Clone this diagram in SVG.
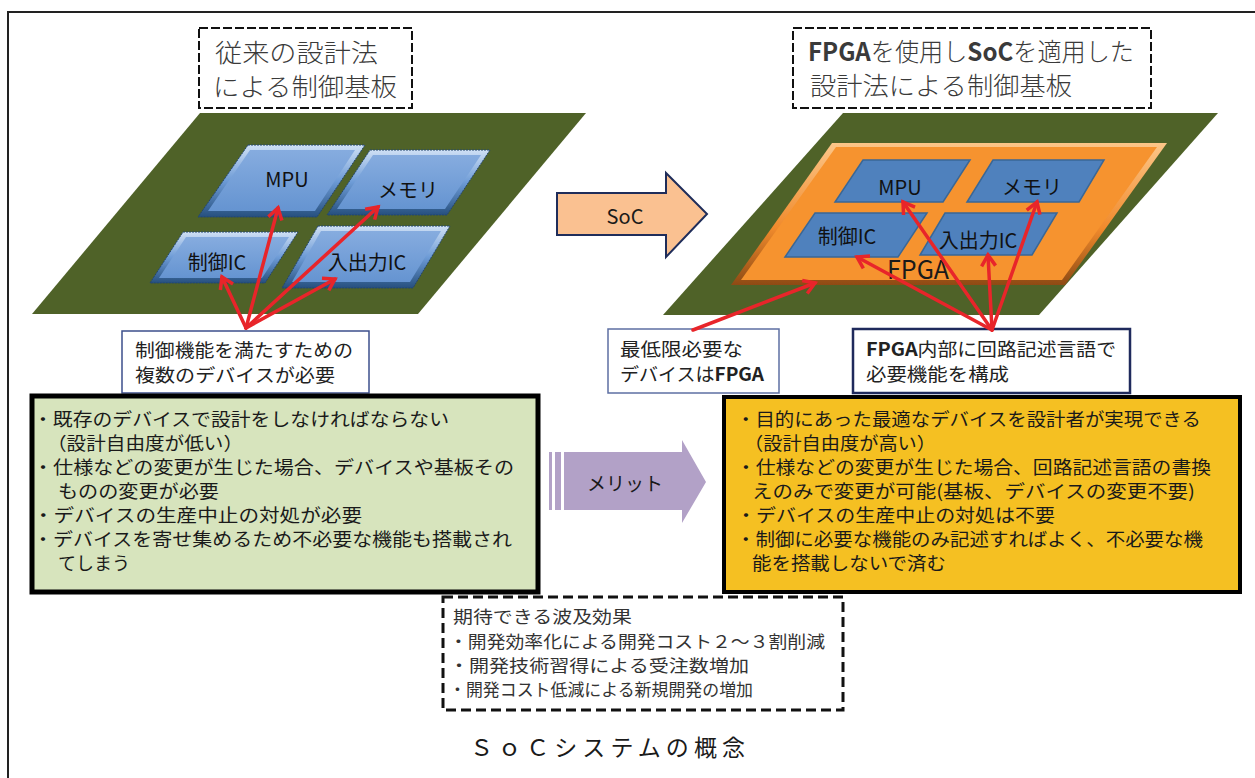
<svg xmlns="http://www.w3.org/2000/svg" width="1255" height="778" viewBox="0 0 1255 778">
  <defs>
    <style>
      text { font-family: "Noto Sans CJK JP", "Noto Sans", sans-serif; fill: #1a1a1a; }
      .title { font-size: 25px; fill: #3a3a3a; font-weight: 300; }
      .chip { font-size: 20px; fill: #111; text-anchor: middle; }
      .note { font-size: 18.5px; fill: #222; }
      .body { font-size: 18px; fill: #1a1a1a; }
      .effect { font-size: 17px; fill: #333; }
      .board { fill: #4f6228; }
      .chipflat { fill: #4f81bd; stroke: #3a6796; stroke-width: 1.5; }
      .chipedge { fill: url(#chipEdge); stroke: #23466f; stroke-width: 1; stroke-dasharray: 2 1; }
      .chipface { fill: url(#chipFace); }
      .dash { fill: #fff; stroke: #111; stroke-width: 2; stroke-dasharray: 9 3; }
      .callout { fill: #fff; stroke: #3c4f8c; stroke-width: 1.5; }
      .red { stroke: #e8252a; stroke-width: 3.5; fill: none; stroke-linecap: round; marker-end: url(#redHead); }
    </style>
    <marker id="redHead" markerUnits="userSpaceOnUse" markerWidth="20" markerHeight="20" viewBox="0 0 20 20" refX="14" refY="10" orient="auto">
      <path d="M3,3 L14,10 L3,17" fill="none" stroke="#e8252a" stroke-width="3.5" stroke-linejoin="miter"/>
    </marker>
    <linearGradient id="chipEdge" x1="0" y1="0" x2="0" y2="1">
      <stop offset="0" stop-color="#cfe0f5"/>
      <stop offset="0.5" stop-color="#6d9bd6"/>
      <stop offset="1" stop-color="#26507f"/>
    </linearGradient>
    <linearGradient id="chipFace" x1="0" y1="0" x2="0" y2="1">
      <stop offset="0" stop-color="#86acdf"/>
      <stop offset="1" stop-color="#6594d1"/>
    </linearGradient>
    <linearGradient id="fpgaEdge" x1="0" y1="0" x2="0" y2="1">
      <stop offset="0" stop-color="#fcc688"/>
      <stop offset="0.6" stop-color="#f08a2c"/>
      <stop offset="1" stop-color="#8e4a14"/>
    </linearGradient>
  </defs>

  <!-- outer frame (top and left rules only) -->
  <g id="frame" stroke="#222" stroke-width="2" fill="none">
    <line x1="7" y1="12" x2="1255" y2="12"/>
    <line x1="8" y1="11" x2="8" y2="778"/>
  </g>

  <!-- conventional board -->
  <g id="title-left">
    <rect class="dash" x="199" y="28" width="213" height="80"/>
    <text class="title" x="215" y="62" textLength="163" lengthAdjust="spacingAndGlyphs">従来の設計法</text>
    <text class="title" x="213" y="96" textLength="184" lengthAdjust="spacingAndGlyphs">による制御基板</text>
  </g>

  <g id="board-left">
    <polygon class="board" points="200,113 586,113 418,314 32,314"/>
  </g>

  <g id="chip-left-mpu">
    <polygon class="chipedge" points="248,145 365,145 317,217 198,217"/>
    <polygon class="chipface" points="250,150 355,150 315,211 208,211"/>
    <text class="chip" x="287" y="187">MPU</text>
  </g>
  <g id="chip-left-mem">
    <polygon class="chipedge" points="370,150 490,150 447,215 327,215"/>
    <polygon class="chipface" points="373,155 481,155 445,209 337,209"/>
    <text class="chip" x="408" y="198">メモリ</text>
  </g>
  <g id="chip-left-ctrl">
    <polygon class="chipedge" points="183,232 298,232 265,283 150,283"/>
    <polygon class="chipface" points="186,237 289,237 262,278 159,278"/>
    <text class="chip" x="217" y="270">制御IC</text>
  </g>
  <g id="chip-left-io">
    <polygon class="chipedge" points="318,226 450,226 413,288 282,288"/>
    <polygon class="chipface" points="321,231 441,231 410,282 292,282"/>
    <text class="chip" x="367" y="270">入出力IC</text>
  </g>

  <g id="note-left">
    <rect class="callout" x="122" y="331" width="247" height="62"/>
    <text class="note" x="135" y="357" textLength="218" lengthAdjust="spacingAndGlyphs">制御機能を満たすための</text>
    <text class="note" x="135" y="382" textLength="200" lengthAdjust="spacingAndGlyphs">複数のデバイスが必要</text>
  </g>

  <!-- SoC transition arrow -->
  <g id="arrow-soc">
    <polygon points="557,193 666,193 666,173 707,214 666,257 666,235 557,235" fill="#fac191" stroke="#1f2d5a" stroke-width="2" stroke-linejoin="miter"/>
    <text x="625" y="224" font-size="20" text-anchor="middle" fill="#222">SoC</text>
  </g>

  <!-- FPGA based board -->
  <g id="title-right">
    <rect class="dash" x="793" y="28" width="358" height="80"/>
    <text class="title" x="808" y="61" textLength="326" lengthAdjust="spacingAndGlyphs"><tspan font-weight="bold">FPGA</tspan>を使用し<tspan font-weight="bold">SoC</tspan>を適用した</text>
    <text class="title" x="810" y="95" textLength="262" lengthAdjust="spacingAndGlyphs">設計法による制御基板</text>
  </g>

  <g id="board-right">
    <polygon class="board" points="843,113 1218,113 1039,315 663,315"/>
  </g>

  <g id="fpga">
    <polygon points="832,143 1167,143 1065,285 731,285" fill="url(#fpgaEdge)"/>
    <polygon points="836,147 1157,147 1062,280 741,280" fill="#f6932f"/>
    <text x="918" y="279" font-size="25" text-anchor="middle" fill="#111">FPGA</text>
  </g>

  <g id="chip-right-mpu">
    <polygon class="chipflat" points="863,160 970,160 943,202 835,202"/>
    <text class="chip" x="900" y="195">MPU</text>
  </g>
  <g id="chip-right-mem">
    <polygon class="chipflat" points="993,160 1104,160 1079,202 967,202"/>
    <text class="chip" x="1032" y="195">メモリ</text>
  </g>
  <g id="chip-right-ctrl">
    <polygon class="chipflat" points="815,213 927,213 898,257 785,257"/>
    <text class="chip" x="847" y="244">制御IC</text>
  </g>
  <g id="chip-right-io">
    <polygon class="chipflat" points="945,213 1057,213 1032,255 920,255"/>
    <text class="chip" x="978" y="248">入出力IC</text>
  </g>

  <g id="note-min">
    <rect x="608" y="329" width="171" height="64" fill="#fff" stroke="#5d6fa3" stroke-width="1.5"/>
    <text class="note" x="620" y="356" textLength="123" lengthAdjust="spacingAndGlyphs">最低限必要な</text>
    <text class="note" x="620" y="381" textLength="144" lengthAdjust="spacingAndGlyphs">デバイスは<tspan font-weight="bold">FPGA</tspan></text>
  </g>

  <g id="note-hdl">
    <rect x="853" y="329" width="277" height="64" fill="#fff" stroke="#1f2a5c" stroke-width="2.5"/>
    <text class="note" x="866" y="356" textLength="250" lengthAdjust="spacingAndGlyphs"><tspan font-weight="bold">FPGA</tspan>内部に回路記述言語で</text>
    <text class="note" x="866" y="381" textLength="143" lengthAdjust="spacingAndGlyphs">必要機能を構成</text>
  </g>

  <!-- red pointer arrows -->
  <g id="connectors">
    <line class="red" x1="246" y1="328" x2="278" y2="208"/>
    <line class="red" x1="246" y1="328" x2="378" y2="207"/>
    <line class="red" x1="246" y1="328" x2="222" y2="277"/>
    <line class="red" x1="246" y1="328" x2="335" y2="279"/>
    <line class="red" x1="693" y1="330" x2="815" y2="283"/>
    <line class="red" x1="992" y1="330" x2="903" y2="202"/>
    <line class="red" x1="992" y1="330" x2="1037" y2="202"/>
    <line class="red" x1="992" y1="330" x2="857" y2="257"/>
    <line class="red" x1="992" y1="330" x2="988" y2="255"/>
  </g>

  <!-- drawbacks of the conventional method -->
  <g id="box-before">
    <rect x="34" y="398" width="506" height="196" fill="#8a8a8a"/>
    <rect x="32" y="396" width="506" height="196" fill="#d7e4bd" stroke="#000" stroke-width="5"/>
    <text class="body" x="33" y="426" textLength="416" lengthAdjust="spacingAndGlyphs">・既存のデバイスで設計をしなければならない</text>
    <text class="body" x="47" y="450" textLength="196" lengthAdjust="spacingAndGlyphs">（設計自由度が低い）</text>
    <text class="body" x="33" y="474" textLength="481" lengthAdjust="spacingAndGlyphs">・仕様などの変更が生じた場合、デバイスや基板その</text>
    <text class="body" x="58" y="498" textLength="161" lengthAdjust="spacingAndGlyphs">ものの変更が必要</text>
    <text class="body" x="33" y="522" textLength="329" lengthAdjust="spacingAndGlyphs">・デバイスの生産中止の対処が必要</text>
    <text class="body" x="33" y="546" textLength="479" lengthAdjust="spacingAndGlyphs">・デバイスを寄せ集めるため不必要な機能も搭載され</text>
    <text class="body" x="58" y="570" textLength="72" lengthAdjust="spacingAndGlyphs">てしまう</text>
  </g>

  <!-- merit arrow -->
  <g id="arrow-merit" fill="#b2a1c7">
    <rect x="549" y="452" width="3" height="58"/>
    <rect x="555" y="452" width="6" height="58"/>
    <polygon points="564,452 682,452 682,440 706,482 682,523 682,510 564,510"/>
    <text x="625" y="491" font-size="19" text-anchor="middle" fill="#333">メリット</text>
  </g>

  <!-- benefits of the SoC method -->
  <g id="box-after">
    <rect x="726" y="399" width="516" height="195" fill="#8a8a8a"/>
    <rect x="724" y="397" width="516" height="195" fill="#f5c022" stroke="#000" stroke-width="4"/>
    <text class="body" x="736" y="426" textLength="465" lengthAdjust="spacingAndGlyphs">・目的にあった最適なデバイスを設計者が実現できる</text>
    <text class="body" x="744" y="450" textLength="192" lengthAdjust="spacingAndGlyphs">（設計自由度が高い）</text>
    <text class="body" x="736" y="474" textLength="475" lengthAdjust="spacingAndGlyphs">・仕様などの変更が生じた場合、回路記述言語の書換</text>
    <text class="body" x="752" y="498" textLength="443" lengthAdjust="spacingAndGlyphs">えのみで変更が可能(基板、デバイスの変更不要)</text>
    <text class="body" x="736" y="522" textLength="319" lengthAdjust="spacingAndGlyphs">・デバイスの生産中止の対処は不要</text>
    <text class="body" x="736" y="546" textLength="467" lengthAdjust="spacingAndGlyphs">・制御に必要な機能のみ記述すればよく、不必要な機</text>
    <text class="body" x="752" y="570" textLength="194" lengthAdjust="spacingAndGlyphs">能を搭載しないで済む</text>
  </g>

  <!-- expected ripple effects -->
  <g id="box-effects">
    <rect x="443" y="597" width="400" height="113" fill="#fff" stroke="#111" stroke-width="3" stroke-dasharray="10 5"/>
    <text class="effect" x="453" y="623" textLength="179" lengthAdjust="spacingAndGlyphs">期待できる波及効果</text>
    <text class="effect" x="449" y="648" textLength="376" lengthAdjust="spacingAndGlyphs">・開発効率化による開発コスト２～３割削減</text>
    <text class="effect" x="449" y="672" textLength="300" lengthAdjust="spacingAndGlyphs">・開発技術習得による受注数増加</text>
    <text class="effect" x="449" y="696" textLength="304" lengthAdjust="spacingAndGlyphs">・開発コスト低減による新規開発の増加</text>
  </g>

  <g id="caption">
    <text x="470" y="756" font-size="23" fill="#222" textLength="275" lengthAdjust="spacing">ＳｏＣシステムの概念</text>
  </g>
</svg>
